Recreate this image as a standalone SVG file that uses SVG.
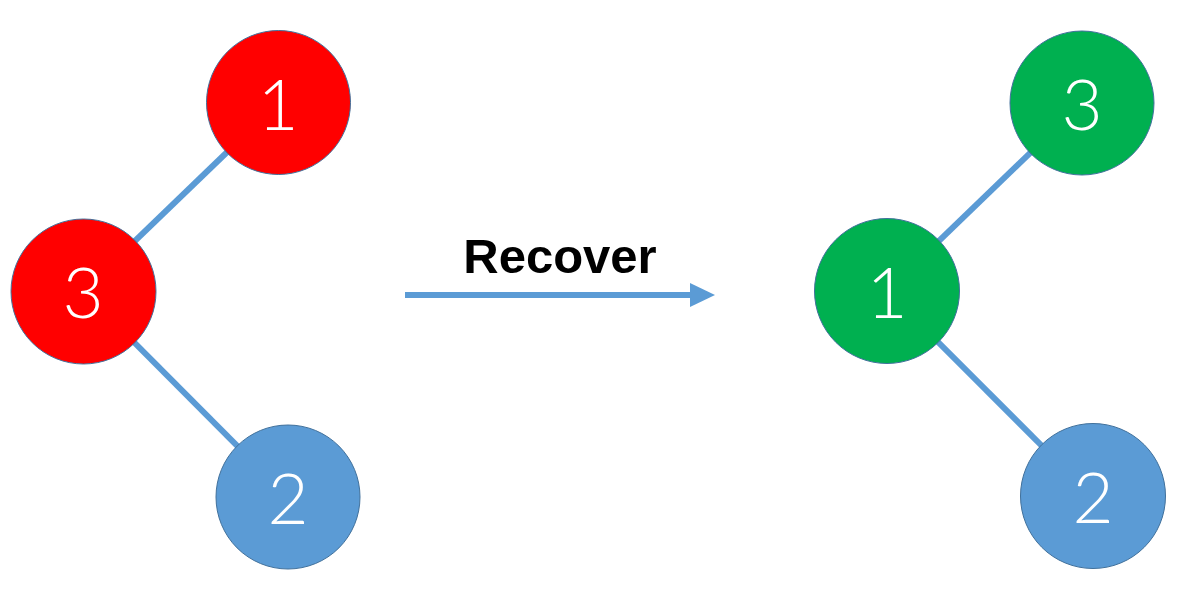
<svg xmlns="http://www.w3.org/2000/svg" width="1198" height="594" viewBox="0 0 1198 594">
<style>
.edge{stroke:#5B9BD5;stroke-width:6;fill:none}
.node{stroke:#41719C;stroke-width:1}
.red{fill:#FF0000}.green{fill:#00B050}.blue{fill:#5B9BD5}
.lbl{fill:#FFFFFF;font-family:Lato,"Liberation Sans",sans-serif;font-weight:300;font-size:71px;text-anchor:middle}
.title{fill:#000000;font-family:"Liberation Sans",Arial,sans-serif;font-weight:bold;font-size:49px;text-anchor:middle}
</style>
<defs>
<marker id="ah" markerWidth="25" markerHeight="24" refX="0" refY="12" orient="auto" markerUnits="userSpaceOnUse">
<path d="M0,0 L25,12 L0,24 Z" fill="#5B9BD5"/>
</marker>
</defs>
<rect width="1198" height="594" fill="#FFFFFF"/>
<g id="connectors">
<line class="edge" x1="278" y1="103" x2="83" y2="291"/>
<line class="edge" x1="83" y1="291" x2="288" y2="497"/>
<line class="edge" x1="1082" y1="103" x2="887" y2="291"/>
<line class="edge" x1="887" y1="291" x2="1093" y2="497"/>
<line class="edge" x1="405" y1="295" x2="690" y2="295" marker-end="url(#ah)"/>
</g>
<g id="recover-label"><text class="title" x="560" y="273">Recover</text></g>
<g id="left-1"><circle class="node red" cx="278.5" cy="102.5" r="72"/><text class="lbl" x="278" y="130">1</text></g>
<g id="left-3"><circle class="node red" cx="83.5" cy="291.5" r="72.5"/><text class="lbl" x="83" y="318">3</text></g>
<g id="left-2"><circle class="node blue" cx="288" cy="497" r="72"/><text class="lbl" x="288" y="524">2</text></g>
<g id="right-3"><circle class="node green" cx="1082" cy="103" r="72"/><text class="lbl" x="1082" y="130">3</text></g>
<g id="right-1"><circle class="node green" cx="887" cy="291" r="72.5"/><text class="lbl" x="887" y="318">1</text></g>
<g id="right-2"><circle class="node blue" cx="1093" cy="496" r="72.5"/><text class="lbl" x="1093" y="523">2</text></g>
</svg>
